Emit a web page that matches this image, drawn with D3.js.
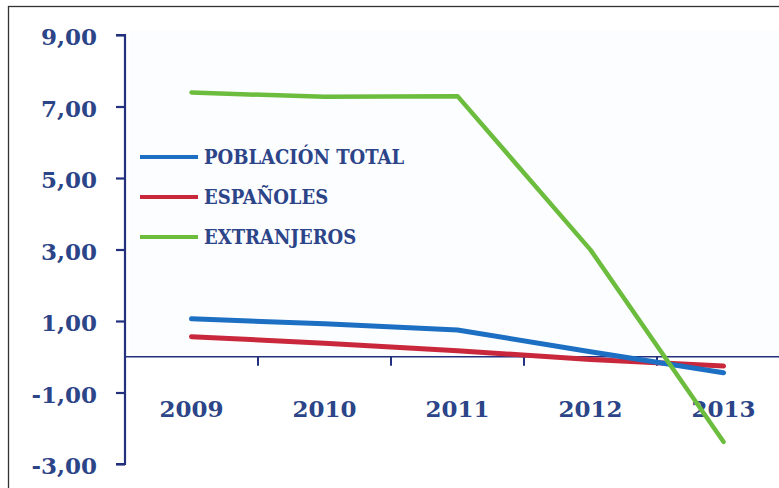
<!DOCTYPE html>
<html><head><meta charset="utf-8">
<script src="https://cdn.jsdelivr.net/npm/d3@7"></script>
<style>body{margin:0;background:#fff}svg{display:block}</style>
</head><body>
<svg id="c" width="779" height="488"></svg>
<script>
const years = ["2009","2010","2011","2012","2013"];
const poblacionTotal = [1.06, 0.92, 0.75, 0.14, -0.45];
const espanoles = [0.56, 0.38, 0.17, -0.08, -0.26];
const extranjeros = [7.39, 7.27, 7.29, 2.99, -2.38];
const yTicks = [9, 7, 5, 3, 1, -1, -3];
const seriesNames = ["POBLACIÓN TOTAL", "ESPAÑOLES", "EXTRANJEROS"];
const seriesColors = ["#1c6fc2", "#c9283c", "#6cbd3e"];

const svg = d3.select("#c");
const navy = "#22307e";
const textCol = "#2c4488";

// frame
svg.append("rect").attr("x",8.5).attr("y",6.5).attr("width",800).attr("height",500)
  .attr("fill","none").attr("stroke","#333").attr("stroke-width",1.3);

const x = d3.scaleBand().domain(years).range([125, 790]).padding(0);
const y = d3.scaleLinear().domain([-3, 9]).range([464, 35]);

// light plot background
svg.append("rect").attr("x",130).attr("y",30).attr("width",649).attr("height",y(0)-30)
  .attr("fill","#fcfdff");

const fmt = d => d3.format(".2f")(d).replace(".",",").replace("\u2212","-");

// y axis
const ya = svg.append("g").attr("transform","translate(125,0)")
  .call(d3.axisLeft(y).tickValues(yTicks).tickSize(9).tickFormat(fmt));
ya.select(".domain").attr("stroke",navy).attr("stroke-width",2.2).attr("d","M-9,"+y(9)+"H0V"+y(-3)+"H-9");
ya.selectAll(".tick line").attr("stroke",navy).attr("stroke-width",2.2);
ya.selectAll(".tick text").attr("x",-28).attr("dy","0.42em").attr("fill",textCol)
  .attr("font-family","DejaVu Serif").attr("font-weight","bold").attr("font-size",23);

// x axis at zero
const xa = svg.append("g").attr("transform","translate(0,"+y(0)+")")
  .call(d3.axisBottom(x).tickSize(0).tickFormat(""));
xa.select(".domain").attr("stroke",navy).attr("stroke-width",1.6).attr("d","M125,0H779");
xa.selectAll(".tick").remove();
const bounds = years.slice(1).map(d => x(d));
xa.selectAll(".xt").data(bounds).enter().append("line")
  .attr("x1",d=>d).attr("x2",d=>d).attr("y1",0).attr("y2",9)
  .attr("stroke",navy).attr("stroke-width",2);

// x labels
svg.append("g").selectAll("text").data(years).enter().append("text")
  .attr("x", d => x(d) + x.bandwidth()/2).attr("y", 417)
  .attr("text-anchor","middle").attr("fill",textCol)
  .attr("font-family","DejaVu Serif").attr("font-weight","bold").attr("font-size",23)
  .text(d => d);

// lines
const line = d3.line().x((d,i) => x(years[i]) + x.bandwidth()/2).y(d => y(d));
const allSeries = [poblacionTotal, espanoles, extranjeros];
const widths = [5, 5, 4.5];
[1,0,2].forEach(k => {
  svg.append("path").datum(allSeries[k]).attr("d", line)
    .attr("fill","none").attr("stroke",seriesColors[k]).attr("stroke-width",widths[k])
    .attr("stroke-linecap","round").attr("stroke-linejoin","round");
});

// legend
const lg = svg.append("g");
const ly = [157, 197, 237];
seriesNames.forEach((n,i) => {
  lg.append("line").attr("x1",140).attr("x2",198).attr("y1",ly[i]).attr("y2",ly[i])
    .attr("stroke",seriesColors[i]).attr("stroke-width",4);
  lg.append("text").attr("x",204).attr("y",ly[i]).attr("dy","0.36em")
    .attr("fill",textCol).attr("font-family","DejaVu Serif Condensed, DejaVu Serif")
    .attr("font-weight","bold").attr("font-size",20).text(n);
});
</script>
</body></html>
